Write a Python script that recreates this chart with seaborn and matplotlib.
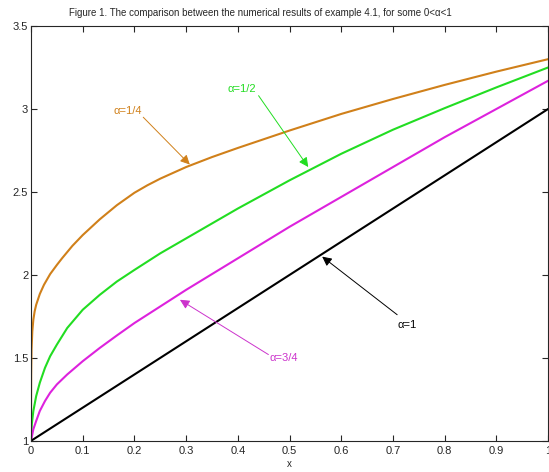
import matplotlib
matplotlib.use("Agg")
import matplotlib.pyplot as plt
import numpy as np
import pandas as pd
import seaborn as sns

# values
x_q = [0, 0.0001, 0.0003, 0.001, 0.0025, 0.0045, 0.007, 0.01, 0.017, 0.025, 0.037,
       0.05, 0.06, 0.08, 0.1, 0.133, 0.166, 0.2, 0.225, 0.25, 0.275, 0.3, 0.35, 0.4,
       0.5, 0.6, 0.7, 0.8, 0.9, 1.0]
y_q = [1.0, 1.25, 1.40, 1.55, 1.66, 1.73, 1.78, 1.82, 1.885, 1.94, 2.005,
       2.06, 2.10, 2.175, 2.24, 2.335, 2.42, 2.495, 2.54, 2.58, 2.615, 2.65, 2.71, 2.765,
       2.87, 2.97, 3.06, 3.145, 3.225, 3.30]

x_h = [0, 0.0015, 0.0045, 0.01, 0.017, 0.027, 0.037, 0.05, 0.07, 0.1, 0.133,
       0.166, 0.2, 0.25, 0.3, 0.35, 0.4, 0.5, 0.6, 0.7, 0.8, 0.9, 1.0]
y_h = [1.02, 1.10, 1.18, 1.27, 1.35, 1.44, 1.51, 1.58, 1.68, 1.79, 1.88,
       1.96, 2.03, 2.13, 2.22, 2.31, 2.40, 2.57, 2.73, 2.875, 3.005, 3.13, 3.25]

x_t = [0, 0.0045, 0.01, 0.017, 0.027, 0.037, 0.05, 0.07, 0.1, 0.133, 0.166,
       0.2, 0.25, 0.3, 0.4, 0.5, 0.6, 0.7, 0.8, 0.9, 1.0]
y_t = [1.0, 1.07, 1.12, 1.18, 1.24, 1.29, 1.34, 1.40, 1.48, 1.56, 1.635,
       1.71, 1.81, 1.91, 2.10, 2.29, 2.47, 2.65, 2.83, 3.00, 3.17]

x_one = [0, 1.0]
y_one = [1.0, 3.0]

labels = ["\u03b1=1/4", "\u03b1=1/2", "\u03b1=3/4", "\u03b1=1"]
colors = ["#d0801a", "#22dd22", "#dd22dd", "#000000"]

sns.set_style("ticks")
plt.rcParams["font.family"] = ["Liberation Sans Narrow", "Liberation Sans", "DejaVu Sans"]

fig = plt.figure(figsize=(5.49, 4.72), dpi=100)
ax = fig.add_axes([0.0565, 0.066, 0.942, 0.879])

series = [(x_q, y_q), (x_h, y_h), (x_t, y_t), (x_one, y_one)]
for (xs, ys), lab, col in zip(series, labels, colors):
    df = pd.DataFrame({"x": xs, "y": ys})
    sns.lineplot(data=df, x="x", y="y", ax=ax, color=col, linewidth=1.5,
                 estimator=None, sort=False)

ax.set_xlim(0, 1)
ax.set_ylim(1, 3.5)
ax.set_xticks(np.arange(0, 1.01, 0.1))
ax.set_xticklabels(["0", "0.1", "0.2", "0.3", "0.4", "0.5", "0.6", "0.7", "0.8", "0.9", "1"])
ax.set_yticks([1, 1.5, 2, 2.5, 3, 3.5])
ax.set_yticklabels(["1", "1.5", "2", "2.5", "3", "3.5"])
ax.tick_params(axis="x", pad=4)
ax.tick_params(direction="in", top=True, right=True, labelsize=8, length=4)
ax.tick_params(axis="y", pad=2)
for s in ax.spines.values():
    s.set_linewidth(0.8)
ax.set_xlabel("x", fontsize=7, labelpad=2)
ax.set_ylabel("")
fig.text(0.474, 0.972,
         "Figure 1. The comparison between the numerical results of example 4.1, for some 0<\u03b1<1",
         fontsize=7, ha="center", va="center")

# annotations: (text pos, arrow tail, arrow head)
notes = [
    (labels[0], colors[0], (0.159, 2.99), (0.217, 2.95), (0.307, 2.665)),
    (labels[1], colors[1], (0.379, 3.12), (0.44, 3.08), (0.536, 2.65)),
    (labels[2], "#cc33cc", (0.462, 1.50), (0.459, 1.52), (0.288, 1.85)),
    (labels[3], "#000000", (0.708, 1.70), (0.708, 1.76), (0.563, 2.11)),
]
for txt, col, tpos, tail, head in notes:
    ax.text(tpos[0], tpos[1], txt, color=col, fontsize=8, va="center", ha="left")
    ax.annotate("", xy=head, xytext=tail,
                arrowprops=dict(arrowstyle="-|>", color=col, lw=0.7,
                                mutation_scale=14, shrinkA=0, shrinkB=0))

fig.savefig("out.png", dpi=100)
